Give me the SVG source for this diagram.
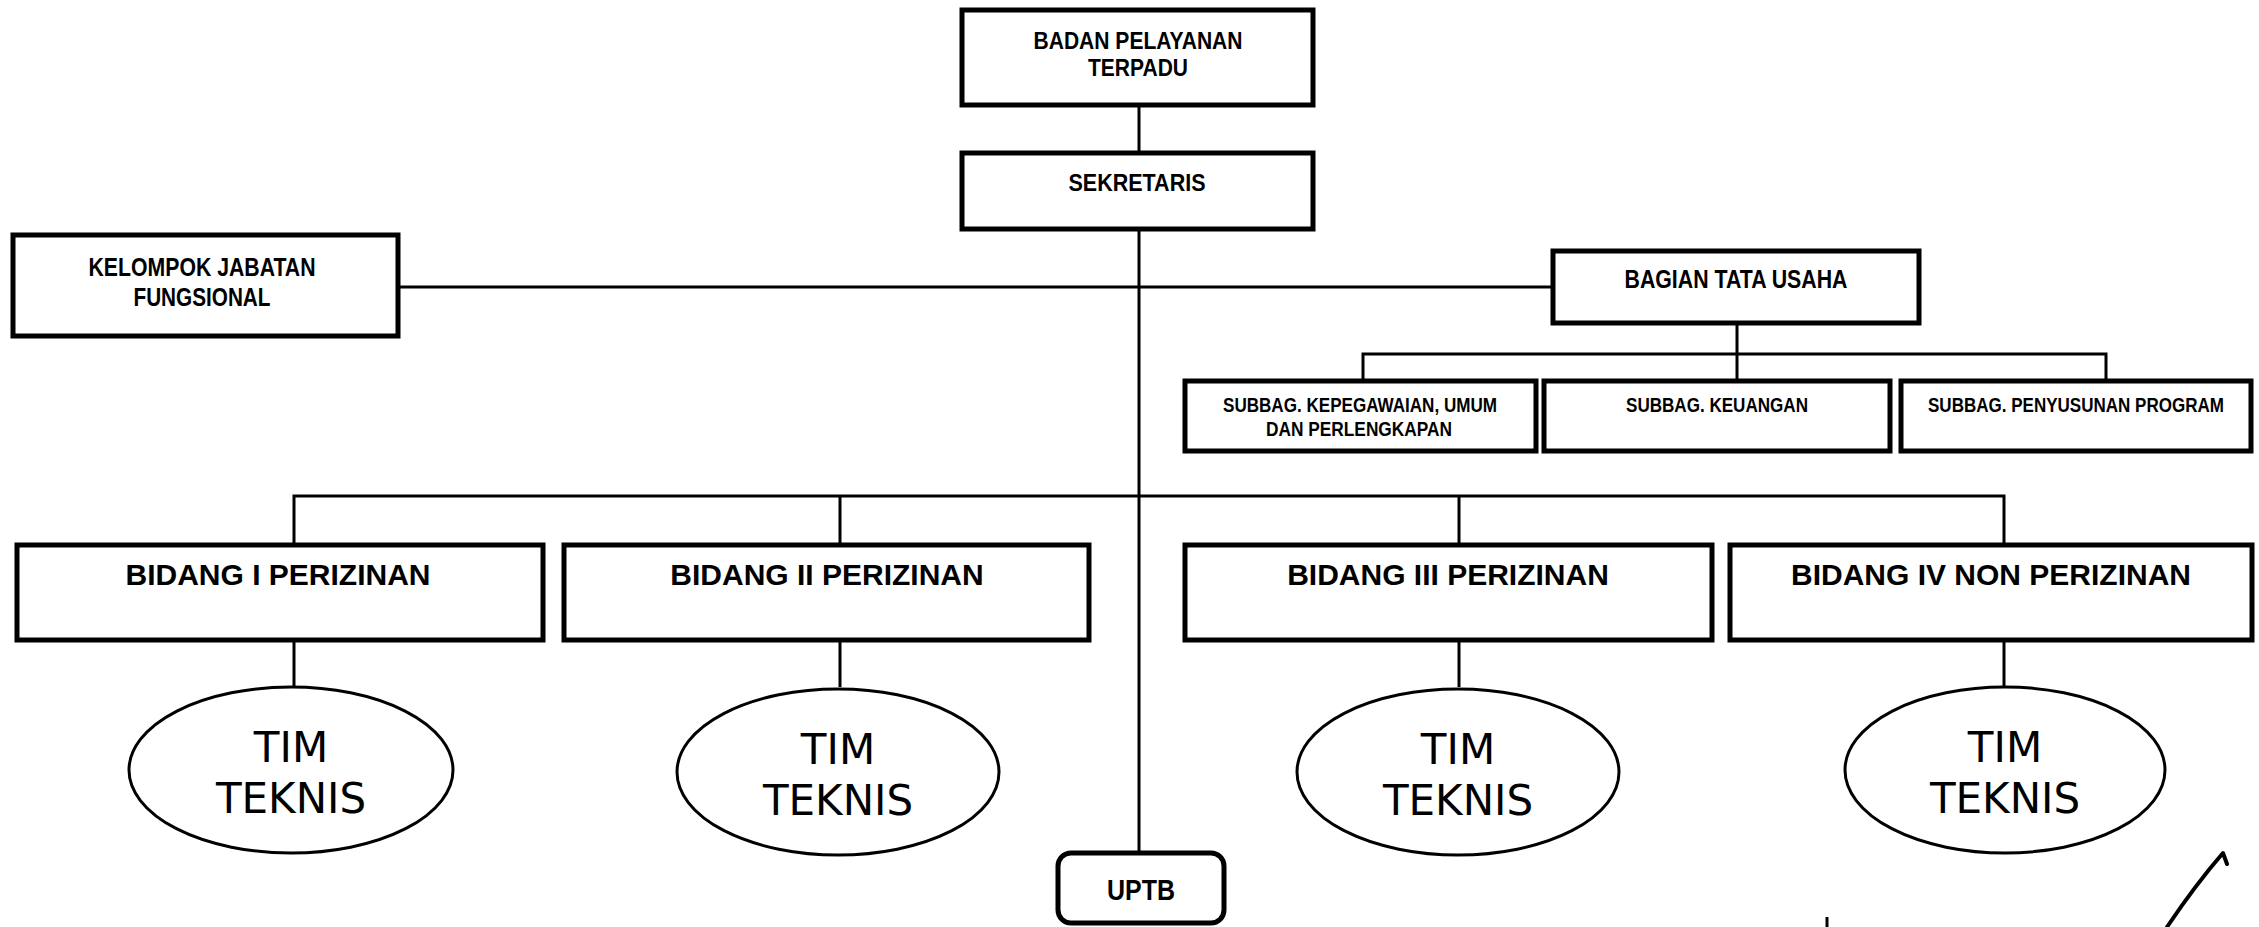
<svg xmlns="http://www.w3.org/2000/svg" width="2259" height="927" viewBox="0 0 2259 927">
<defs>
<style>
.box{fill:#fff;stroke:#000;stroke-width:5}
.ell{fill:#fff;stroke:#000;stroke-width:3}
.ln{fill:none;stroke:#000;stroke-width:3}
.n{font-family:"Liberation Sans Narrow","Arial Narrow","Liberation Sans",sans-serif;font-weight:bold;fill:#000;text-anchor:middle}
.b{font-family:"Liberation Sans",Arial,sans-serif;font-weight:bold;font-size:30px;fill:#000;text-anchor:middle}
.t{font-family:"DejaVu Sans",Verdana,sans-serif;font-size:42px;fill:#000;text-anchor:middle}
</style>
</defs>
<rect width="2259" height="927" fill="#fff"/>
<g id="connectors">
<line class="ln" x1="1139" y1="106" x2="1139" y2="852"/>
<line class="ln" x1="399" y1="287" x2="1552" y2="287"/>
<line class="ln" x1="1737" y1="324" x2="1737" y2="381"/>
<polyline class="ln" points="1363,381 1363,354 2106,354 2106,381"/>
<polyline class="ln" points="294,545 294,496 2004,496 2004,545"/>
<line class="ln" x1="840" y1="496" x2="840" y2="545"/>
<line class="ln" x1="1459" y1="496" x2="1459" y2="545"/>
<line class="ln" x1="294" y1="640" x2="294" y2="687"/>
<line class="ln" x1="840" y1="640" x2="840" y2="687"/>
<line class="ln" x1="1459" y1="640" x2="1459" y2="687"/>
<line class="ln" x1="2004" y1="640" x2="2004" y2="687"/>
</g>
<g id="badan">
<rect class="box" x="962" y="10" width="351" height="95"/>
<text class="n" x="1138" y="49" font-size="23" textLength="209" lengthAdjust="spacingAndGlyphs">BADAN PELAYANAN</text>
<text class="n" x="1138" y="76" font-size="23" textLength="100" lengthAdjust="spacingAndGlyphs">TERPADU</text>
</g>
<g id="sekretaris">
<rect class="box" x="962" y="153" width="351" height="76"/>
<text class="n" x="1137" y="191" font-size="23" textLength="137" lengthAdjust="spacingAndGlyphs">SEKRETARIS</text>
</g>
<g id="kelompok">
<rect class="box" x="13" y="235" width="385" height="101"/>
<text class="n" x="202" y="276" font-size="25" textLength="227" lengthAdjust="spacingAndGlyphs">KELOMPOK JABATAN</text>
<text class="n" x="202" y="306" font-size="25" textLength="137" lengthAdjust="spacingAndGlyphs">FUNGSIONAL</text>
</g>
<g id="bagian">
<rect class="box" x="1553" y="251" width="366" height="72"/>
<text class="n" x="1736" y="288" font-size="26" textLength="223" lengthAdjust="spacingAndGlyphs">BAGIAN TATA USAHA</text>
</g>
<g id="subbag1">
<rect class="box" x="1185" y="381" width="351" height="70"/>
<text class="n" x="1360" y="412" font-size="20" textLength="274" lengthAdjust="spacingAndGlyphs">SUBBAG. KEPEGAWAIAN, UMUM</text>
<text class="n" x="1359" y="436" font-size="20" textLength="186" lengthAdjust="spacingAndGlyphs">DAN PERLENGKAPAN</text>
</g>
<g id="subbag2">
<rect class="box" x="1544" y="381" width="346" height="70"/>
<text class="n" x="1717" y="412" font-size="20" textLength="182" lengthAdjust="spacingAndGlyphs">SUBBAG. KEUANGAN</text>
</g>
<g id="subbag3">
<rect class="box" x="1901" y="381" width="350" height="70"/>
<text class="n" x="2076" y="412" font-size="20" textLength="296" lengthAdjust="spacingAndGlyphs">SUBBAG. PENYUSUNAN PROGRAM</text>
</g>
<g id="bidang1">
<rect class="box" x="17" y="545" width="526" height="95"/>
<text class="b" x="278" y="585">BIDANG I PERIZINAN</text>
</g>
<g id="bidang2">
<rect class="box" x="564" y="545" width="525" height="95"/>
<text class="b" x="827" y="585">BIDANG II PERIZINAN</text>
</g>
<g id="bidang3">
<rect class="box" x="1185" y="545" width="527" height="95"/>
<text class="b" x="1448" y="585">BIDANG III PERIZINAN</text>
</g>
<g id="bidang4">
<rect class="box" x="1730" y="545" width="522" height="95"/>
<text class="b" x="1991" y="585">BIDANG IV NON PERIZINAN</text>
</g>
<g id="tim1">
<ellipse class="ell" cx="291" cy="770" rx="162" ry="83"/>
<text class="t" x="291" y="762">TIM</text>
<text class="t" x="291" y="813">TEKNIS</text>
</g>
<g id="tim2">
<ellipse class="ell" cx="838" cy="772" rx="161" ry="83"/>
<text class="t" x="838" y="764">TIM</text>
<text class="t" x="838" y="815">TEKNIS</text>
</g>
<g id="tim3">
<ellipse class="ell" cx="1458" cy="772" rx="161" ry="83"/>
<text class="t" x="1458" y="764">TIM</text>
<text class="t" x="1458" y="815">TEKNIS</text>
</g>
<g id="tim4">
<ellipse class="ell" cx="2005" cy="770" rx="160" ry="83"/>
<text class="t" x="2005" y="762">TIM</text>
<text class="t" x="2005" y="813">TEKNIS</text>
</g>
<g id="uptb">
<rect class="box" x="1058" y="853" width="166" height="70" rx="13"/>
<text class="n" x="1141" y="900" font-size="30" textLength="68" lengthAdjust="spacingAndGlyphs">UPTB</text>
</g>
<g id="marks">
<line x1="1827" y1="917" x2="1827" y2="927" stroke="#000" stroke-width="3"/>
<path d="M2167,927 Q2196,884 2223,853 L2227,864" fill="none" stroke="#000" stroke-width="4" stroke-linecap="round" stroke-linejoin="round"/>
</g>
</svg>
